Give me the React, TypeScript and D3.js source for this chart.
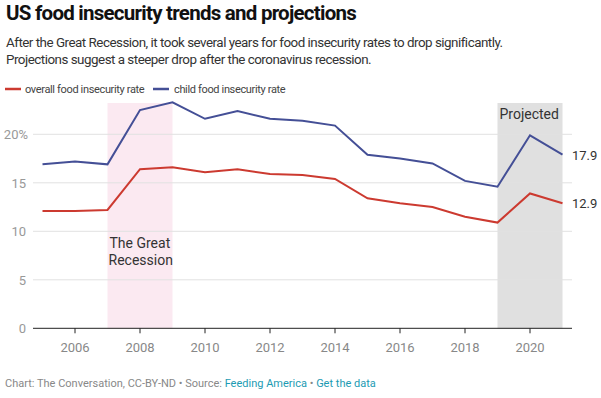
import React from "react";
import * as d3 from "d3";

const years = [2005, 2006, 2007, 2008, 2009, 2010, 2011, 2012, 2013, 2014, 2015, 2016, 2017, 2018, 2019, 2020, 2021];
const overallRate = [12.1, 12.1, 12.2, 16.4, 16.6, 16.1, 16.4, 15.9, 15.8, 15.4, 13.4, 12.9, 12.5, 11.5, 10.9, 13.9, 12.9];
const childRate = [16.9, 17.2, 16.9, 22.5, 23.3, 21.6, 22.4, 21.6, 21.4, 20.9, 17.9, 17.5, 17.0, 15.2, 14.6, 19.9, 17.9];
const yTicks = [0, 5, 10, 15, 20];
const xTicks = [2006, 2008, 2010, 2012, 2014, 2016, 2018, 2020];
const recession = [2007, 2009];
const projected = [2019, 2021];

const RED = "#cc3a30";
const BLUE = "#444f96";
const FONT = "Roboto, sans-serif";

const W = 601;
const H = 398;

const App: React.FC = () => {
  const x = d3.scaleLinear().domain([2005, 2021]).range([42.5, 562.5]);
  const y = d3.scaleLinear().domain([0, 20]).range([328.3, 134.3]);
  const top = 103;

  const line = d3.line<number>()
    .x((_, i) => x(years[i]))
    .y((d) => y(d));

  return (
    <svg width={W} height={H} style={{ position: "absolute", left: 0, top: 0, background: "#fff" }} fontFamily={FONT}>
      <text x={6} y={20} fontSize={20.5} fontWeight={700} fill="#111" letterSpacing={-0.75}>US food insecurity trends and projections</text>
      <text x={6} y={47} fontSize={13.4} fill="#333" letterSpacing={-0.5}>After the Great Recession, it took several years for food insecurity rates to drop significantly.</text>
      <text x={6} y={64} fontSize={13.4} fill="#333" letterSpacing={-0.5}>Projections suggest a steeper drop after the coronavirus recession.</text>

      {/* legend */}
      <line x1={5} x2={21} y1={89} y2={89} stroke={RED} strokeWidth={2.5} />
      <text x={25} y={93} fontSize={11} fill="#444" letterSpacing={-0.35}>overall food insecurity rate</text>
      <line x1={153} x2={169} y1={89} y2={89} stroke={BLUE} strokeWidth={2.5} />
      <text x={174} y={93} fontSize={11} fill="#444" letterSpacing={-0.35}>child food insecurity rate</text>

      {/* shaded periods */}
      <rect x={x(recession[0])} y={top} width={x(recession[1]) - x(recession[0])} height={y(0) - top} fill="#fbe9f1" />
      <rect x={x(projected[0])} y={top} width={x(projected[1]) - x(projected[0])} height={y(0) - top} fill="#e0e0e0" />

      {/* grid */}
      {yTicks.map((t) => (
        <g key={t}>
          {t > 0 && <line x1={33} x2={572} y1={y(t)} y2={y(t)} stroke="#e2e2e2" strokeWidth={1} />}
          <text x={t === 20 ? 28 : 26} y={y(t) + 5} fontSize={13} fill="#999" textAnchor="end">
            {t === 20 ? "20%" : t}
          </text>
        </g>
      ))}

      <text x={x(recession[0]) + 2} y={248} fontSize={14} fill="#333">The Great</text>
      <text x={x(recession[0]) + 1} y={265} fontSize={14} fill="#333">Recession</text>
      <text x={x(projected[0]) + 2} y={119} fontSize={14} fill="#333">Projected</text>

      <path d={line(overallRate) ?? ""} fill="none" stroke={RED} strokeWidth={2} />
      <path d={line(childRate) ?? ""} fill="none" stroke={BLUE} strokeWidth={2} />

      <text x={572} y={y(childRate[childRate.length - 1]) + 5} fontSize={13} fill="#333">
        {childRate[childRate.length - 1].toFixed(1)}
      </text>
      <text x={572} y={y(overallRate[overallRate.length - 1]) + 5} fontSize={13} fill="#333">
        {overallRate[overallRate.length - 1].toFixed(1)}
      </text>

      {/* x axis */}
      <line x1={33} x2={572} y1={y(0)} y2={y(0)} stroke="#222" strokeWidth={1} />
      {xTicks.map((t) => (
        <g key={t}>
          <line x1={x(t)} x2={x(t)} y1={y(0)} y2={y(0) + 5} stroke="#222" strokeWidth={1} />
          <text x={x(t)} y={352} fontSize={13} fill="#888" textAnchor="middle">{t}</text>
        </g>
      ))}

      <text x={5} y={387} fontSize={11} fill="#888">
        Chart: The Conversation, CC-BY-ND • Source: <tspan fill="#1c9bb3">Feeding America</tspan> • <tspan fill="#1c9bb3">Get the data</tspan>
      </text>
    </svg>
  );
};

export default App;
